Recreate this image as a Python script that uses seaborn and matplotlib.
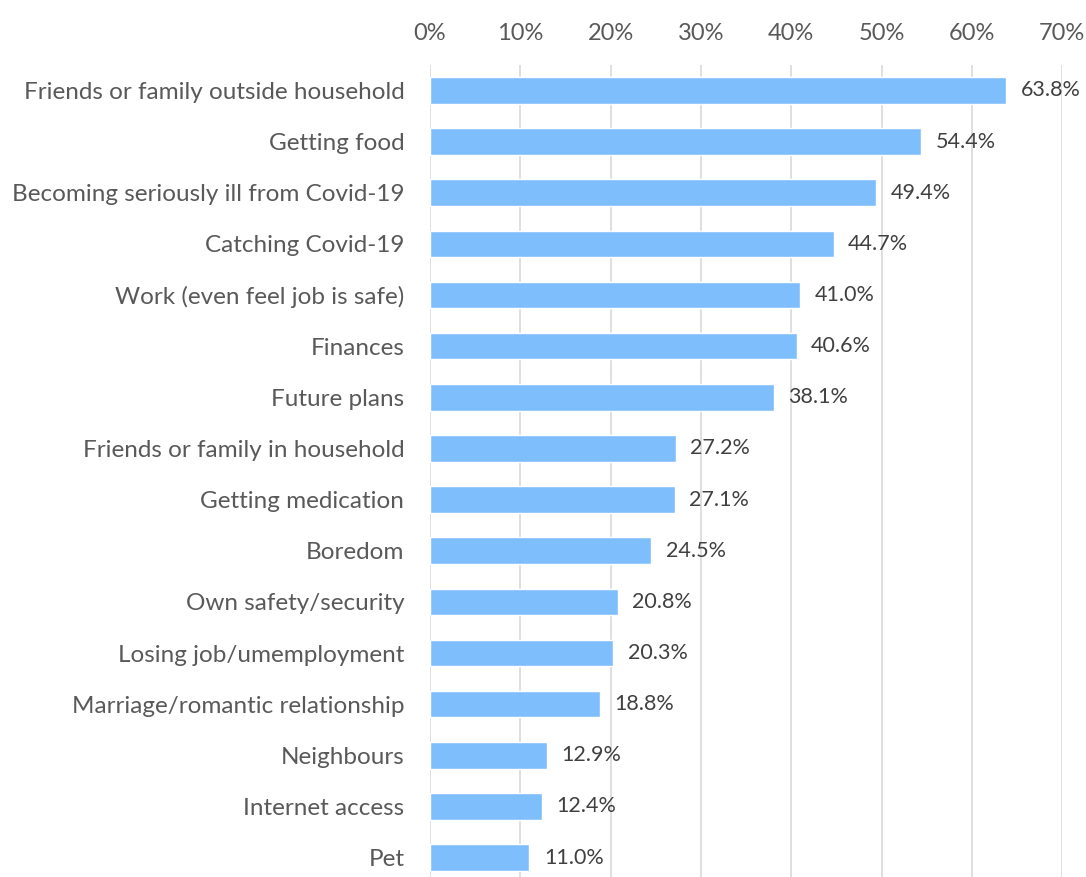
import matplotlib
matplotlib.use("Agg")
import matplotlib.pyplot as plt
import seaborn as sns
import pandas as pd

categories = [
    "Friends or family outside household",
    "Getting food",
    "Becoming seriously ill from Covid-19",
    "Catching Covid-19",
    "Work (even feel job is safe)",
    "Finances",
    "Future plans",
    "Friends or family in household",
    "Getting medication",
    "Boredom",
    "Own safety/security",
    "Losing job/umemployment",
    "Marriage/romantic relationship",
    "Neighbours",
    "Internet access",
    "Pet",
]
values = [63.8, 54.4, 49.4, 44.7, 41.0, 40.6, 38.1, 27.2, 27.1, 24.5, 20.8, 20.3, 18.8, 12.9, 12.4, 11.0]
tick_values = [0, 10, 20, 30, 40, 50, 60, 70]

df = pd.DataFrame({"category": categories, "value": values})

sns.set_theme(style="white")
plt.rcParams["font.family"] = ["Lato", "DejaVu Sans"]

fig = plt.figure(figsize=(10.86, 8.77), dpi=100)
ax = fig.add_axes([0.396, -0.007, 0.582, 0.933])

sns.barplot(data=df, x="value", y="category", orient="h", color="#7FBEFC",
            saturation=1, width=0.52, ax=ax, zorder=3)

ax.set_xlim(0, 70)
ax.set_xticks(tick_values)
ax.set_xticklabels([f"{t}%" for t in tick_values])
ax.xaxis.tick_top()
ax.tick_params(axis="x", length=0, pad=15, labelsize=17, labelcolor="#595959")
ax.tick_params(axis="y", length=0, pad=18.5, labelsize=17.5, labelcolor="#595959")
ax.set_xlabel("")
ax.set_ylabel("")
ax.grid(axis="x", color="#D9D9D9", linewidth=1.2, zorder=0)
ax.grid(axis="y", visible=False)
for s in ax.spines.values():
    s.set_visible(False)

for i, v in enumerate(values):
    ax.text(v + 1.6, i, f"{v:.1f}%", va="center", ha="left",
            fontsize=15.5, color="#404040")

fig.savefig("out.png", dpi=100)
